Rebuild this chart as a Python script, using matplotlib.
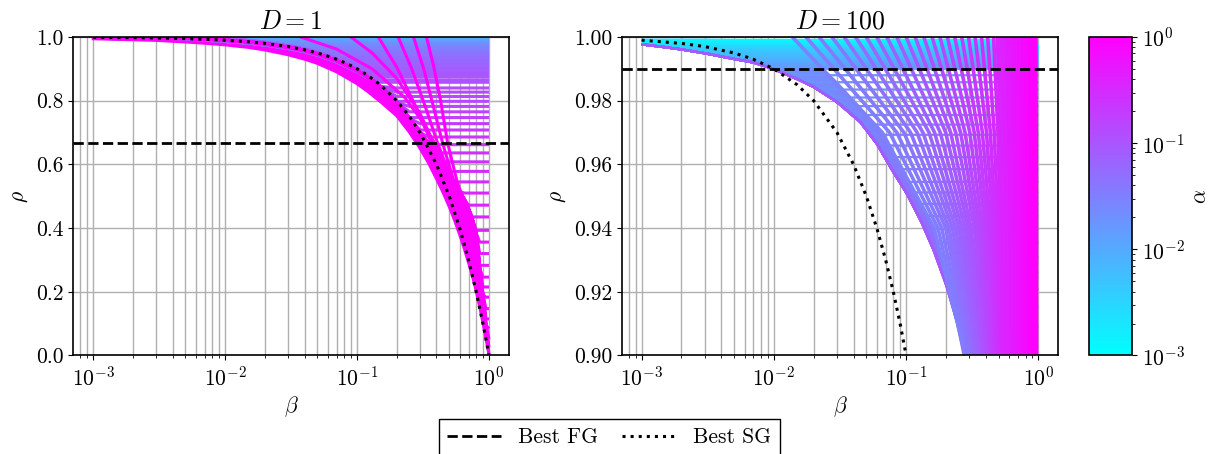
import numpy as np
import matplotlib
matplotlib.use("Agg")
import matplotlib.pyplot as plt
from matplotlib.colors import LogNorm
from matplotlib.cm import ScalarMappable
from matplotlib.lines import Line2D

# ---- data ----
# reference lines
fg_left = 0.6667
fg_right = 0.9901
sg_beta = [0.001, 0.002, 0.003, 0.005, 0.007, 0.01, 0.015, 0.02, 0.03, 0.04, 0.05, 0.06, 0.07,
           0.08, 0.09, 0.1, 0.12, 0.15, 0.2, 0.25, 0.3, 0.4, 0.5, 0.6, 0.7, 0.8, 0.9, 0.95, 1.0]
sg_rho = [0.999, 0.998, 0.997, 0.995, 0.993, 0.99, 0.985, 0.98, 0.97, 0.96, 0.95, 0.94, 0.93,
          0.92, 0.91, 0.9, 0.88, 0.85, 0.8, 0.75, 0.7, 0.6, 0.5, 0.4, 0.3, 0.2, 0.1, 0.05, 0.0]

# D = 1 : magenta band (lower / upper edge)
left_beta = [0.001, 0.002, 0.003, 0.005, 0.007, 0.01, 0.015, 0.02, 0.03, 0.04, 0.05, 0.07,
             0.1, 0.12, 0.15, 0.2, 0.25, 0.3, 0.35, 0.4, 0.45, 0.5, 0.55, 0.6, 0.65, 0.7,
             0.75, 0.8, 0.85, 0.9, 0.95, 1.0]
left_band_low = [0.994, 0.991, 0.989, 0.984, 0.980, 0.975, 0.967, 0.959, 0.944, 0.930, 0.917,
                 0.890, 0.853, 0.829, 0.797, 0.752, 0.700, 0.650, 0.602, 0.554, 0.510, 0.466,
                 0.422, 0.378, 0.334, 0.290, 0.247, 0.201, 0.151, 0.101, 0.050, 0.0]
left_band_high = [0.9995, 0.999, 0.998, 0.996, 0.994, 0.990, 0.985, 0.979, 0.968, 0.958,
                  0.947, 0.926, 0.895, 0.875, 0.845, 0.795, 0.745, 0.700, 0.665, 0.625,
                  0.595, 0.565, 0.540, 0.515, 0.490, 0.460, 0.425, 0.385, 0.275, 0.190,
                  0.095, 0.0]

# D = 1 : plateau level reached by each alpha curve
left_alpha = [0.0010, 0.0011, 0.0012, 0.0014, 0.0016, 0.0019, 0.0022, 0.0025, 0.0029, 0.0033,
              0.0038, 0.0043, 0.0050, 0.0057, 0.0066, 0.0076, 0.0087, 0.0100, 0.0115, 0.0132,
              0.0152, 0.0175, 0.0201, 0.0231, 0.0266, 0.0305, 0.0351, 0.0404, 0.0464, 0.0534,
              0.0614, 0.0706, 0.0811, 0.0933, 0.1072, 0.1233, 0.1322, 0.1417, 0.1520, 0.1630,
              0.1748, 0.1874, 0.2009, 0.2154, 0.2310, 0.2477, 0.2656, 0.2848, 0.3054, 0.3275,
              0.3511, 0.3765, 0.4037, 0.4329, 0.4642, 0.4977, 0.5337, 0.5722, 0.6136, 0.6579,
              0.7055, 0.7565, 0.8111, 0.8697, 0.9326, 1.0]
left_level = [0.9987, 0.9986, 0.9985, 0.9982, 0.9979, 0.9975, 0.9972, 0.9968, 0.9963, 0.9957,
              0.9951, 0.9945, 0.9936, 0.9926, 0.9915, 0.9902, 0.9888, 0.9871, 0.9852, 0.9830,
              0.9804, 0.9774, 0.9741, 0.9702, 0.9657, 0.9607, 0.9547, 0.9479, 0.9401, 0.9311,
              0.9208, 0.9089, 0.8954, 0.8796, 0.8617, 0.840, 0.827, 0.813, 0.798, 0.782,
              0.765, 0.747, 0.728, 0.708, 0.686, 0.662, 0.636, 0.608, 0.578, 0.545,
              0.510, 0.472, 0.435, 0.393, 0.356, 0.320, 0.283, 0.246, 0.215, 0.183,
              0.147, 0.115, 0.084, 0.052, 0.026, 0.0]

# D = 1 : curves coming down from above rho = 1
steep_alpha = [0.76, 0.81, 0.87, 0.93, 0.97, 1.0]
steep_beta = [[0.033, 0.0375, 0.07, 0.13, 0.23, 0.3, 0.38, 0.5],
              [0.082, 0.09, 0.13, 0.2, 0.3, 0.36, 0.45, 0.55],
              [0.135, 0.145, 0.2, 0.28, 0.367, 0.45, 0.55, 0.65],
              [0.19, 0.205, 0.26, 0.33, 0.408, 0.5, 0.6, 0.7],
              [0.25, 0.268, 0.32, 0.38, 0.445, 0.53, 0.62, 0.72],
              [0.315, 0.336, 0.38, 0.43, 0.486, 0.57, 0.66, 0.75]]
steep_rho = [[1.03, 1.0, 0.962, 0.90, 0.81, 0.745, 0.67, 0.565],
             [1.03, 1.0, 0.95, 0.87, 0.76, 0.69, 0.615, 0.54],
             [1.03, 1.0, 0.905, 0.78, 0.667, 0.59, 0.53, 0.49],
             [1.03, 1.0, 0.90, 0.78, 0.667, 0.57, 0.50, 0.46],
             [1.03, 1.0, 0.90, 0.78, 0.667, 0.56, 0.49, 0.45],
             [1.03, 1.0, 0.91, 0.80, 0.667, 0.55, 0.47, 0.43]]

# D = 100 : envelope and the blue-purple band along it
right_beta = [0.001, 0.0015, 0.002, 0.003, 0.005, 0.007, 0.01, 0.015, 0.02, 0.03, 0.045, 0.06,
              0.08, 0.1, 0.13, 0.16, 0.2, 0.24, 0.272, 0.3, 0.4, 1.0]
right_env = [0.9977, 0.9968, 0.9961, 0.9949, 0.9931, 0.9920, 0.9899, 0.9868, 0.9843, 0.9796,
             0.9733, 0.9665, 0.9576, 0.9512, 0.9420, 0.9334, 0.9223, 0.9110, 0.900, 0.890,
             0.85, 0.70]
right_band_top = [0.9995, 0.9995, 0.9995, 0.9995, 0.9994, 0.9988, 0.9970, 0.9948, 0.993,
                  0.986, 0.978, 0.972, 0.9637, 0.956, 0.9475, 0.9406, 0.925, 0.913, 0.902]
right_band_alpha = [0.016, 0.016, 0.016, 0.016, 0.017, 0.018, 0.019, 0.021, 0.023, 0.026,
                    0.029, 0.032, 0.036, 0.040, 0.045, 0.050, 0.055, 0.060, 0.065]

# D = 100 : plateau level reached by each small-alpha curve
right_alpha = [0.001000, 0.001072, 0.001150, 0.001233, 0.001322, 0.001417, 0.001520, 0.001630,
               0.001748, 0.001874, 0.002009, 0.002154, 0.002310, 0.002477, 0.002656, 0.002848,
               0.003054, 0.003275, 0.003511, 0.003765, 0.004037, 0.004329, 0.004642, 0.004977,
               0.005337, 0.005722, 0.006136, 0.006579, 0.007055, 0.007565, 0.008111, 0.008697,
               0.009326, 0.01000, 0.01072, 0.01150, 0.01233, 0.01322, 0.01417, 0.01520,
               0.01630, 0.01748, 0.01874, 0.02009, 0.02154, 0.02310, 0.02477, 0.02656,
               0.02848, 0.03054, 0.03275, 0.03511, 0.03765, 0.04037, 0.04329, 0.04642,
               0.04977, 0.05337, 0.05722, 0.06136, 0.06579, 0.07055, 0.07565, 0.08111,
               0.08697]
right_level = [0.9992, 0.99904, 0.99888, 0.99872, 0.99856, 0.9984, 0.99824, 0.99808,
               0.99792, 0.99776, 0.9976, 0.99744, 0.99728, 0.99712, 0.99696, 0.9968,
               0.99664, 0.99648, 0.99632, 0.99616, 0.9960, 0.9957, 0.9954, 0.9951,
               0.9948, 0.9945, 0.9942, 0.9939, 0.9936, 0.9933, 0.9930, 0.9927,
               0.9924, 0.9921, 0.9918, 0.9915, 0.9912, 0.9909, 0.9906, 0.9903,
               0.9900, 0.9880, 0.9858, 0.9835, 0.9810, 0.9783, 0.9755, 0.9725,
               0.9693, 0.9659, 0.9623, 0.9585, 0.9545, 0.9512, 0.9476, 0.9438,
               0.9397, 0.9354, 0.9308, 0.9261, 0.9208, 0.9152, 0.9091, 0.9028,
               0.8960]

# D = 100 : fan of larger-alpha curves, beta where each crosses these rho levels
fan_rho = [1.0, 0.97, 0.94, 0.90]
fan_alpha = [0.0300, 0.0335, 0.0373, 0.0417, 0.0465, 0.0519, 0.0579, 0.0646, 0.0721, 0.0804,
             0.0897, 0.1002, 0.1117, 0.1247, 0.1391, 0.1552, 0.1734, 0.1932, 0.2158, 0.2404,
             0.2685, 0.2999, 0.3342, 0.3733, 0.4159, 0.4645, 0.5188, 0.5781, 0.6457, 0.7194,
             0.8035, 0.8954, 1.0]
fan_beta = [[0.0138, 0.0661, 0.163, 0.280], [0.0175, 0.0750, 0.174, 0.288],
            [0.0220, 0.0851, 0.186, 0.297], [0.0275, 0.0962, 0.199, 0.306],
            [0.0340, 0.108, 0.211, 0.315], [0.0415, 0.121, 0.224, 0.324],
            [0.0500, 0.134, 0.237, 0.333], [0.0600, 0.149, 0.251, 0.343],
            [0.0715, 0.164, 0.265, 0.353], [0.0850, 0.181, 0.280, 0.364],
            [0.100, 0.199, 0.295, 0.374], [0.117, 0.217, 0.310, 0.385],
            [0.136, 0.237, 0.328, 0.397], [0.157, 0.258, 0.344, 0.408],
            [0.180, 0.279, 0.361, 0.420], [0.205, 0.303, 0.378, 0.433],
            [0.233, 0.327, 0.397, 0.446], [0.263, 0.351, 0.415, 0.459],
            [0.296, 0.377, 0.434, 0.472], [0.332, 0.405, 0.454, 0.486],
            [0.371, 0.433, 0.474, 0.500], [0.413, 0.463, 0.495, 0.515],
            [0.458, 0.494, 0.516, 0.530], [0.500, 0.531, 0.550, 0.560],
            [0.545, 0.574, 0.590, 0.600], [0.590, 0.615, 0.631, 0.640],
            [0.635, 0.658, 0.672, 0.680], [0.680, 0.700, 0.713, 0.720],
            [0.730, 0.745, 0.755, 0.760], [0.780, 0.790, 0.797, 0.800],
            [0.830, 0.838, 0.842, 0.845], [0.880, 0.888, 0.892, 0.895],
            [0.935, 0.940, 0.943, 0.945]]

# ---- style ----
plt.rcParams["font.family"] = "serif"
plt.rcParams["font.serif"] = ["cmr10", "DejaVu Serif"]
plt.rcParams["mathtext.fontset"] = "cm"
plt.rcParams["axes.formatter.use_mathtext"] = True
plt.rcParams["font.size"] = 15.5
plt.rcParams["axes.linewidth"] = 1.2

cmap = plt.get_cmap("cool")
norm = LogNorm(vmin=1e-3, vmax=1.0)

fig = plt.figure(figsize=(12.16, 4.54), dpi=100)
ax1 = fig.add_axes([0.0603, 0.217, 0.3581, 0.7015])
ax2 = fig.add_axes([0.5113, 0.217, 0.3590, 0.7015])
cax = fig.add_axes([0.8956, 0.217, 0.0354, 0.7015])

# left panel, D = 1
high = np.array(left_band_high)
for a, lev in zip(left_alpha, left_level):
    w = 4.0 if lev > 0.85 else 2.2
    ax1.plot(left_beta, np.maximum(high, lev), color=cmap(norm(a)), lw=w,
             solid_capstyle="butt")
band_col = cmap(norm(0.9))
ax1.fill_between(left_beta, left_band_low, left_band_high, color=band_col, lw=0)
ax1.plot(left_beta, left_band_low, color=band_col, lw=2)
ax1.plot(left_beta, left_band_high, color=band_col, lw=2)
for a, bs, rs in zip(steep_alpha, steep_beta, steep_rho):
    ax1.plot(bs, rs, color=cmap(norm(a)), lw=2.2)
ax1.axhline(fg_left, color="k", ls="--", lw=2)
ax1.plot(sg_beta, sg_rho, color="k", ls=":", lw=2.2)
ax1.set_ylim(0, 1)
ax1.set_yticks([0.0, 0.2, 0.4, 0.6, 0.8, 1.0])
ax1.yaxis.set_major_formatter(plt.FormatStrFormatter("%.1f"))
ax1.set_title(r"$D = 1$")

# right panel, D = 100
env = np.array(right_env)
for a, lev in zip(right_alpha, right_level):
    ax2.plot(right_beta, np.maximum(env, lev), color=cmap(norm(a)), lw=1.6,
             solid_capstyle="butt")
# band along the envelope, coloured piece by piece
for i in range(len(right_band_top) - 1):
    a = np.sqrt(right_band_alpha[i] * right_band_alpha[i + 1])
    ax2.fill_between(right_beta[i:i + 2], right_env[i:i + 2], right_band_top[i:i + 2],
                     color=cmap(norm(a)), lw=0.6, edgecolor=cmap(norm(a)))
for a, bs in zip(fan_alpha, fan_beta):
    w = 4.5 if bs[0] >= 0.5 else 2.6
    ax2.plot(bs, fan_rho, color=cmap(norm(a)), lw=w, solid_capstyle="butt")
ax2.axhline(fg_right, color="k", ls="--", lw=2)
ax2.plot(sg_beta, sg_rho, color="k", ls=":", lw=2.2)
ax2.set_ylim(0.9, 1.0)
ax2.set_yticks([0.90, 0.92, 0.94, 0.96, 0.98, 1.00])
ax2.yaxis.set_major_formatter(plt.FormatStrFormatter("%.2f"))
ax2.set_title(r"$D = 100$")

for ax in (ax1, ax2):
    ax.set_xscale("log")
    ax.set_xlim(10 ** -3.15, 10 ** 0.15)
    ax.set_axisbelow(True)
    ax.grid(True, which="both", axis="x", color="#b0b0b0", lw=1.0)
    ax.grid(True, which="major", axis="y", color="#b0b0b0", lw=1.0)
    ax.set_xlabel(r"$\beta$")
    ax.set_ylabel(r"$\rho$")

cb = fig.colorbar(ScalarMappable(norm=norm, cmap=cmap), cax=cax)
cb.set_label(r"$\alpha$")

handles = [Line2D([], [], color="k", ls="--", lw=2),
           Line2D([], [], color="k", ls=":", lw=2.2)]
leg = fig.legend(handles, ["Best FG", "Best SG"], loc="upper center",
                 bbox_to_anchor=(0.501, 0.10), ncol=2, fancybox=False, edgecolor="k",
                 framealpha=1, handlelength=2.5, columnspacing=1.1)
leg.get_frame().set_linewidth(1.0)

fig.savefig("out.png", dpi=100)
